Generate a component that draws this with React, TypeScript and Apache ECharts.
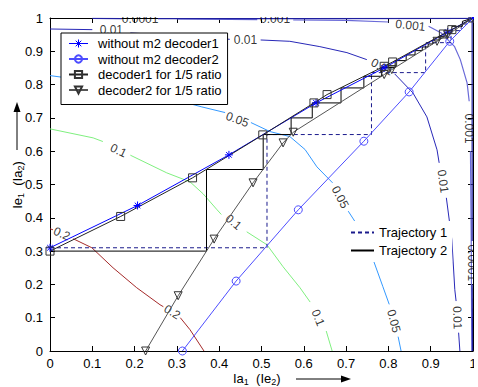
import React, { useEffect, useRef } from 'react';
import * as echarts from 'echarts';

const FONT = 'Liberation Sans, Arial, Helvetica, sans-serif';

// EXIT curves
const dec1NoM2X = [0, 0.207, 0.423, 0.629, 0.79, 0.94, 1];
const dec1NoM2Y = [0.31, 0.437, 0.589, 0.745, 0.85, 0.958, 1];
const dec2NoM2X = [0.313, 0.44, 0.587, 0.742, 0.849, 0.945, 1];
const dec2NoM2Y = [0, 0.21, 0.424, 0.63, 0.778, 0.93, 1];
const dec1R5X = [0, 0.167, 0.337, 0.503, 0.624, 0.655, 0.79, 0.81, 0.93, 0.95, 1];
const dec1R5Y = [0.3, 0.404, 0.52, 0.649, 0.745, 0.77, 0.855, 0.868, 0.952, 0.965, 1];
const dec2R5X = [0.226, 0.303, 0.388, 0.48, 0.551, 0.575, 0.79, 0.808, 0.915, 0.94, 1];
const dec2R5Y = [0, 0.166, 0.336, 0.505, 0.625, 0.657, 0.83, 0.845, 0.93, 0.95, 1];

// Trajectories
const traj1X = [0, 0.513, 0.513, 0.76, 0.76, 0.888, 0.888, 0.948, 0.948, 0.972, 0.972, 0.988, 0.988, 1];
const traj1Y = [0.31, 0.31, 0.65, 0.65, 0.836, 0.836, 0.926, 0.926, 0.962, 0.962, 0.982, 0.982, 0.993, 1];
const traj2X = [0, 0.37, 0.37, 0.504, 0.504, 0.57, 0.57, 0.62, 0.62, 0.688, 0.688, 0.742, 0.742, 0.784, 0.784, 0.816, 0.816, 0.842, 0.842, 0.863, 0.863, 0.88, 0.88, 0.894, 0.894, 0.905, 0.905, 0.92, 0.92, 0.934, 0.934, 0.95, 0.95, 0.975, 0.975, 1];
const traj2Y = [0.3, 0.3, 0.545, 0.545, 0.65, 0.65, 0.7, 0.7, 0.745, 0.745, 0.79, 0.79, 0.825, 0.825, 0.851, 0.851, 0.872, 0.872, 0.889, 0.889, 0.902, 0.902, 0.913, 0.913, 0.922, 0.922, 0.934, 0.934, 0.945, 0.945, 0.955, 0.955, 0.975, 0.975, 0.99, 1];

// Contours: segments of [x, y] and labels [x, y, rotation]
const c02Segs = [
  [[0, 0.367], [0.007, 0.364]],
  [[0.055, 0.337], [0.099, 0.31], [0.149, 0.25], [0.205, 0.19], [0.26, 0.139], [0.268, 0.133]],
  [[0.308, 0.1], [0.331, 0.064], [0.364, 0]],
];
const c02Labels = [[0.028, 0.352, -24], [0.289, 0.117, -32]];

const c01Segs = [
  [[0, 0.667], [0.102, 0.64], [0.125, 0.629]],
  [[0.19, 0.588], [0.276, 0.535], [0.331, 0.508], [0.362, 0.472], [0.395, 0.424], [0.405, 0.41]],
  [[0.465, 0.358], [0.513, 0.319], [0.551, 0.253], [0.591, 0.19], [0.615, 0.147]],
  [[0.653, 0.06], [0.667, 0]],
];
const c01Labels = [[0.162, 0.602, -26], [0.434, 0.387, -40], [0.634, 0.1, -68]];

const c005Segs = [
  [[0, 0.827], [0.1, 0.81], [0.25, 0.77], [0.359, 0.733], [0.414, 0.716]],
  [[0.475, 0.686], [0.52, 0.659], [0.567, 0.644], [0.603, 0.605], [0.631, 0.553], [0.668, 0.505]],
  [[0.705, 0.42], [0.726, 0.379], [0.764, 0.274], [0.787, 0.193], [0.802, 0.14]],
  [[0.823, 0.043], [0.83, 0]],
];
const c005Labels = [[0.443, 0.695, -20], [0.686, 0.462, -62], [0.813, 0.09, -75]];

const c001Segs = [
  [[0, 0.967], [0.1, 0.965]],
  [[0.19, 0.955], [0.3, 0.948], [0.425, 0.936]],
  [[0.498, 0.934], [0.567, 0.93], [0.638, 0.914], [0.702, 0.896], [0.749, 0.875]],
  [[0.815, 0.832], [0.858, 0.775], [0.891, 0.703], [0.915, 0.604], [0.92, 0.565]],
  [[0.937, 0.46], [0.95, 0.334], [0.957, 0.184], [0.96, 0.15]],
  [[0.966, 0.055], [0.969, 0]],
];
const c001Labels = [[0.145, 0.965, 0], [0.462, 0.934, 0], [0.785, 0.853, -28], [0.929, 0.51, -82], [0.963, 0.1, -88]];

const c0001Segs = [
  [[0.3, 0.997], [0.49, 0.995]],
  [[0.575, 0.994], [0.7, 0.993], [0.8, 0.988]],
  [[0.895, 0.975], [0.925, 0.955], [0.956, 0.915], [0.97, 0.875], [0.986, 0.805], [0.991, 0.75]],
  [[0.994, 0.6], [0.996, 0.3], [0.997, 0]],
];
const c0001Labels = [[0.532, 0.998, 0], [0.852, 0.978, -6], [0.99, 0.668, -90]];

const c00001Segs = [
  [[0.1, 0.999], [0.17, 0.998]],
  [[0.255, 0.998], [0.6, 0.998], [0.99, 0.999]],
  [[0.998, 0.99], [0.998, 0.33]],
  [[0.998, 0.2], [0.999, 0]],
];
const c00001Labels = [[0.213, 0.998, 0], [0.998, 0.265, -90]];

const legendNames = ['without m2 decoder1', 'without m2 decoder2', 'decoder1 for 1/5 ratio', 'decoder2 for 1/5 ratio'];
const trajNames = ['Trajectory 1', 'Trajectory 2'];

const zip = (xs: number[], ys: number[]) => xs.map((x, i) => [x, ys[i]]);

const STAR = 'path://M5,0L5,10M0,5L10,5M1.5,1.5L8.5,8.5M1.5,8.5L8.5,1.5';
const STAR_ICON = 'path://M0,4.5L19,4.5M9.5,0.5L9.5,8.5M6.7,1.7L12.3,7.3M6.7,7.3L12.3,1.7';
const HIDDEN = { color: 'rgba(0,0,0,0)', borderColor: 'rgba(0,0,0,0)', borderWidth: 0 };

export default function App() {
  const ref = useRef<HTMLDivElement>(null);
  useEffect(() => {
    if (!ref.current) return;
    const chart = echarts.init(ref.current, undefined, { renderer: 'svg' });

    const contours = [
      { text: '0.2', color: '#a52a2a', segs: c02Segs, labels: c02Labels, w: 1 },
      { text: '0.1', color: '#80f080', segs: c01Segs, labels: c01Labels, w: 1 },
      { text: '0.05', color: '#3399ff', segs: c005Segs, labels: c005Labels, w: 1 },
      { text: '0.01', color: '#2828b8', segs: c001Segs, labels: c001Labels, w: 1 },
      { text: '0.001', color: '#6a6ad8', segs: c0001Segs, labels: c0001Labels, w: 1.2 },
      { text: '0.0001', color: '#1f1fa0', segs: c00001Segs, labels: c00001Labels, w: 1.2 },
    ];

    const series: any[] = [];
    contours.forEach((c) => {
      c.segs.forEach((seg) => {
        series.push({
          type: 'line', data: seg, symbol: 'none', silent: true, z: 1,
          lineStyle: { color: c.color, width: c.w },
        });
      });
      series.push({
        type: 'scatter', silent: true, z: 3, symbol: 'circle', symbolSize: 1,
        itemStyle: { color: 'rgba(0,0,0,0)' },
        data: c.labels.map(([x, y, r]) => ({ value: [x, y], label: { rotate: r } })),
        label: {
          show: true, position: 'inside', formatter: c.text, color: '#000',
          fontSize: 12, fontFamily: FONT,
        },
      });
    });

    series.push(
      {
        name: legendNames[0], type: 'line', data: zip(dec1NoM2X, dec1NoM2Y), z: 5,
        symbol: STAR, symbolSize: 8, showAllSymbol: true,
        lineStyle: { color: '#0000ff', width: 1 },
        itemStyle: { color: 'rgba(0,0,0,0)', borderColor: '#0000ff', borderWidth: 1 },
      },
      {
        name: legendNames[1], type: 'line', data: zip(dec2NoM2X, dec2NoM2Y), z: 5,
        symbol: 'circle', symbolSize: 8, showAllSymbol: true,
        lineStyle: { color: '#4d4dff', width: 1 },
        itemStyle: { color: 'rgba(255,255,255,0)', borderColor: '#4d4dff', borderWidth: 1 },
      },
      {
        name: legendNames[2], type: 'line', data: zip(dec1R5X, dec1R5Y), z: 5,
        symbol: 'rect', symbolSize: 8, showAllSymbol: true,
        lineStyle: { color: '#222', width: 1 },
        itemStyle: { color: 'rgba(255,255,255,0)', borderColor: '#333', borderWidth: 1 },
      },
      {
        name: legendNames[3], type: 'line', data: zip(dec2R5X, dec2R5Y), z: 5,
        symbol: 'triangle', symbolRotate: 180, symbolSize: 8, showAllSymbol: true,
        lineStyle: { color: '#555', width: 1 },
        itemStyle: { color: 'rgba(255,255,255,0)', borderColor: '#333', borderWidth: 1 },
      },
      {
        name: trajNames[0], type: 'line', data: zip(traj1X, traj1Y), z: 4,
        symbol: 'circle', showSymbol: false,
        lineStyle: { color: '#1a1a8c', width: 1, type: [4, 3] },
        itemStyle: HIDDEN,
      },
      {
        name: trajNames[1], type: 'line', data: zip(traj2X, traj2Y), z: 4,
        symbol: 'circle', showSymbol: false,
        lineStyle: { color: '#000', width: 1 },
        itemStyle: HIDDEN,
      },
    );

    const fmt = (v: number) => String(+v.toFixed(1));
    const axisBase = {
      type: 'value', min: 0, max: 1, interval: 0.1,
      axisLine: { show: true, onZero: false, lineStyle: { color: '#000', width: 1 } },
      axisTick: { show: true, inside: true, length: 5, lineStyle: { color: '#000' } },
      splitLine: { show: false },
    };

    const rich = {
      a: { fontSize: 13, fontFamily: FONT, fill: '#000', lineHeight: 17 },
      b: { fontSize: 9, fontFamily: FONT, fill: '#000', lineHeight: 9, verticalAlign: 'bottom' },
    };

    chart.setOption({
      animation: false,
      backgroundColor: '#fff',
      grid: { left: 50, top: 18, right: 5, bottom: 36, containLabel: false, outerBoundsMode: 'none' },
      xAxis: [
        { ...axisBase, position: 'bottom', axisLabel: { show: true, color: '#000', fontSize: 13, fontFamily: FONT, margin: 6, formatter: fmt } },
        { ...axisBase, position: 'top', axisLabel: { show: false } },
      ],
      yAxis: [
        { ...axisBase, position: 'left', axisLabel: { show: true, color: '#000', fontSize: 13, fontFamily: FONT, margin: 7, formatter: fmt } },
        { ...axisBase, position: 'right', axisLabel: { show: false } },
      ],
      legend: [
        {
          data: [
            { name: legendNames[0], icon: STAR_ICON, itemStyle: { color: 'rgba(0,0,0,0)', borderColor: '#0000ff', borderWidth: 1 } },
            legendNames[1], legendNames[2], legendNames[3],
          ],
          orient: 'vertical', left: 61, top: 33,
          itemWidth: 19, itemHeight: 9, itemGap: 2.5, padding: [4, 6, 8, 7],
          backgroundColor: '#fff', borderColor: '#000', borderWidth: 1, borderRadius: 0,
          selectedMode: false,
          textStyle: { color: '#000', fontSize: 13, fontFamily: FONT, padding: [0, 0, 0, 5] },
        },
        {
          data: trajNames, orient: 'vertical', left: 345, top: 221,
          itemWidth: 23, itemHeight: 9, itemGap: 5, padding: 5,
          backgroundColor: '#fff', borderWidth: 0, selectedMode: false,
          textStyle: { color: '#000', fontSize: 13, fontFamily: FONT },
        },
      ],
      graphic: [
        { type: 'rect', silent: true, z: 100, shape: { x: 50, y: 0, width: 428, height: 17 }, style: { fill: '#fff' } },
        { type: 'rect', silent: true, z: 100, shape: { x: 474, y: 0, width: 4, height: 387 }, style: { fill: '#fff' } },
        {
          type: 'text', x: 233, y: 378, z: 100,
          style: { text: '{a|Ia}{b|1}{a|  (Ie}{b|2}{a|)}', align: 'left', verticalAlign: 'middle', rich },
        },
        { type: 'line', z: 100, shape: { x1: 296, y1: 379, x2: 343, y2: 379 }, style: { stroke: '#000', lineWidth: 1 } },
        { type: 'polygon', z: 100, shape: { points: [[351, 379], [341, 375.5], [341, 382.5]] }, style: { fill: '#000' } },
        {
          type: 'text', x: 17, y: 185, rotation: Math.PI / 2, z: 100,
          style: { text: '{a|Ie}{b|1}{a|  (Ia}{b|2}{a|)}', align: 'center', verticalAlign: 'middle', rich },
        },
        { type: 'line', z: 100, shape: { x1: 17, y1: 150, x2: 17, y2: 110 }, style: { stroke: '#000', lineWidth: 1 } },
        { type: 'polygon', z: 100, shape: { points: [[17, 102], [13.5, 112], [20.5, 112]] }, style: { fill: '#000' } },
      ],
      series,
    });
    return () => chart.dispose();
  }, []);
  return <div ref={ref} style={{ position: 'absolute', left: 0, top: 0, width: 478, height: 387 }} />;
}
